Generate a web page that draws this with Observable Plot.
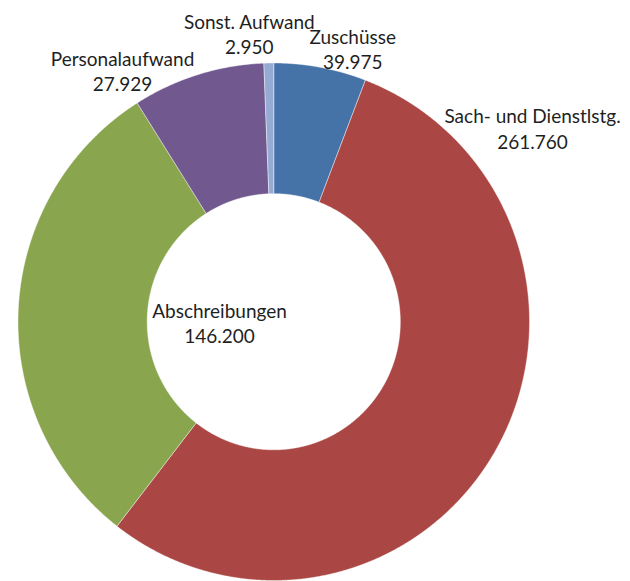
<!DOCTYPE html>
<html>
<head>
<meta charset="utf-8">
<script src="https://cdn.jsdelivr.net/npm/d3@7"></script>
<script src="https://cdn.jsdelivr.net/npm/@observablehq/plot@0.6"></script>
<style>html,body{margin:0;padding:0;background:#fff}</style>
</head>
<body>
<div id="chart"></div>
<script>
// Slices in drawing order (clockwise from 12 o'clock)
const categories = ["Personalaufwand", "Sach- und Dienstlstg.", "Abschreibungen", "Zuschüsse", "Sonst. Aufwand"];
const values = [27929, 261760, 146200, 39975, 2950];
const colors = ["#4572A7", "#AA4643", "#89A54E", "#71588F", "#96ABD3"];

// Label layout (polar, in units of the outer radius)
const labelAngle = [328.7, 53.5, 269.2, 16.3, 355.1];
const labelRadius = [1.138, 1.259, 0.212, 1.100, 1.120];

const outerR = 1, innerR = 0.495;
const fmt = d3.formatLocale({decimal: ",", thousands: ".", grouping: [3], currency: ["", "€"]}).format(",d");

const data = categories.map((name, i) => ({name, value: values[i], color: colors[i]}));
const arcs = d3.pie().sort(null).value(d => d.value)(data);

function ringPoints(a0, a1) {
  const n = Math.max(2, Math.ceil((a1 - a0) / (Math.PI / 720)));
  const angles = d3.range(n + 1).map(i => a0 + (a1 - a0) * i / n);
  const pts = angles.map(a => ({x: outerR * Math.sin(a), y: outerR * Math.cos(a)}))
    .concat(angles.slice().reverse().map(a => ({x: innerR * Math.sin(a), y: innerR * Math.cos(a)})));
  pts.push(pts[0]);
  return pts;
}

const sliceMarks = arcs.map(a =>
  Plot.line(ringPoints(a.startAngle, a.endAngle), {
    x: "x", y: "y", fill: a.data.color, stroke: "#ffffff", strokeWidth: 0.6, strokeOpacity: 0.7, curve: "linear"
  })
);

const labels = data.map((d, i) => {
  const a = labelAngle[i] * Math.PI / 180;
  return {x: labelRadius[i] * Math.sin(a), y: labelRadius[i] * Math.cos(a), text: d.name + "\n" + fmt(d.value)};
});

const chart = Plot.plot({
  width: 630,
  height: 581,
  style: {background: "#ffffff", overflow: "visible"},
  x: {domain: [-1, 1], range: [17.5, 529], axis: null},
  y: {domain: [-1, 1], range: [580, 62.5], axis: null},
  marks: [
    ...sliceMarks,
    Plot.text(labels, {
      x: "x", y: "y", text: "text",
      fontSize: 19, fontFamily: "Lato", lineHeight: 1.32,
      fill: "#1f1f1f", textAnchor: "middle", lineAnchor: "middle"
    })
  ]
});
document.getElementById("chart").appendChild(chart);
</script>
</body>
</html>
